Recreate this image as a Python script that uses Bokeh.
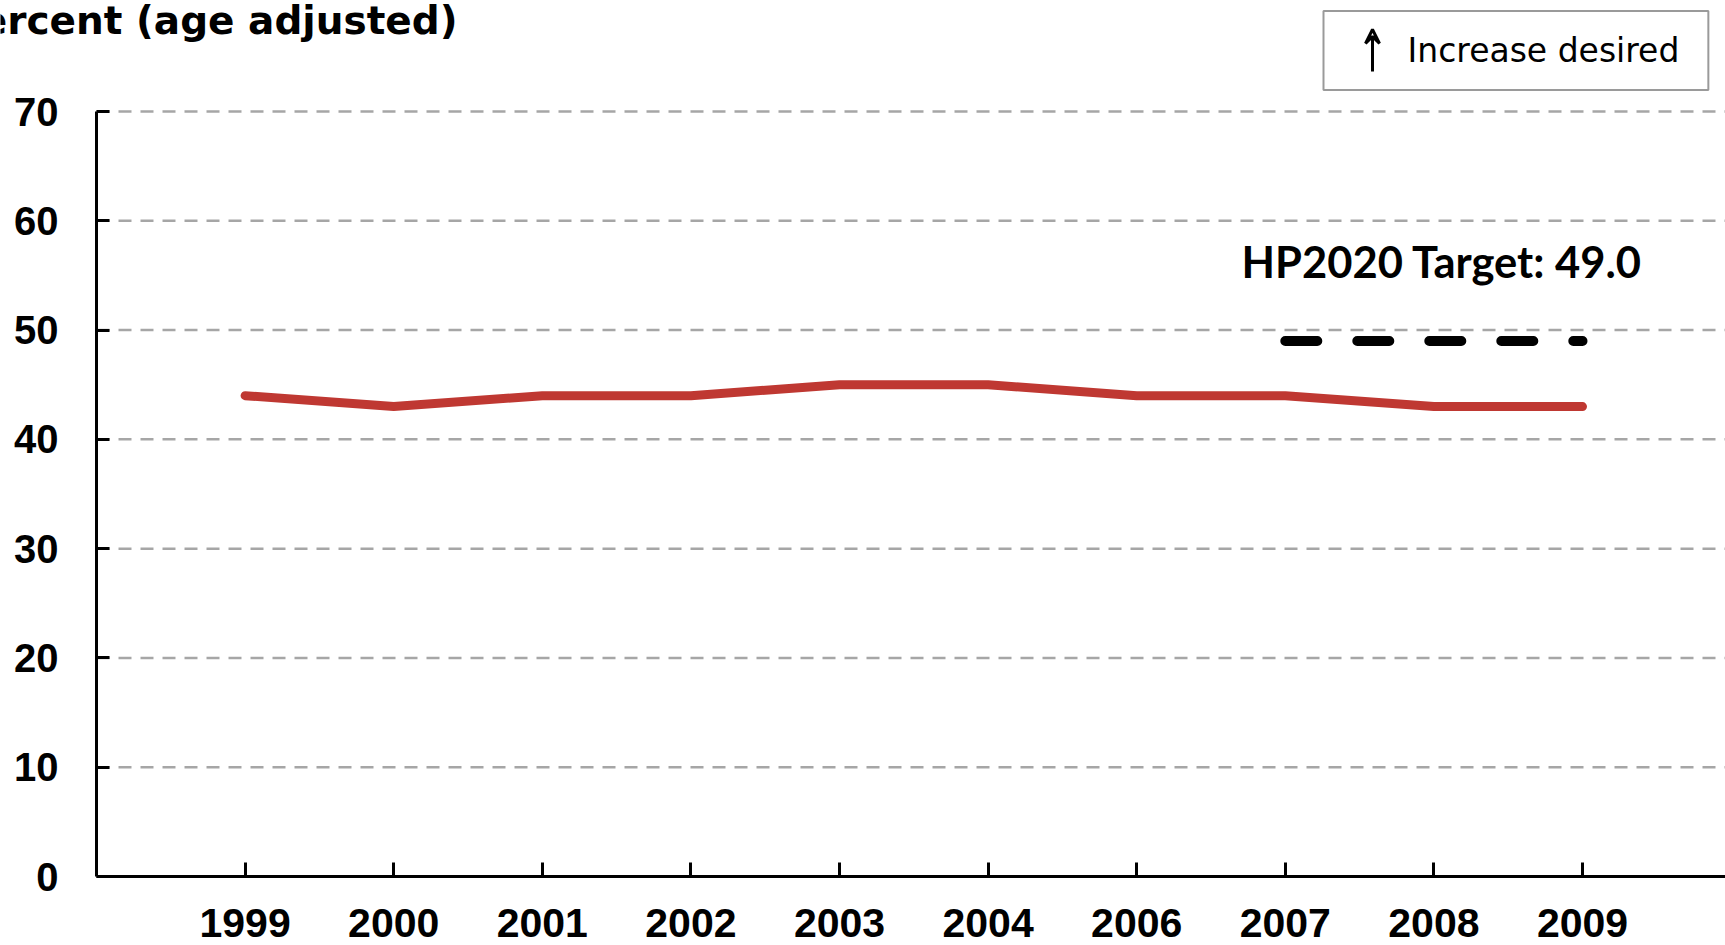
from bokeh.plotting import figure
from bokeh.models import Range1d, FixedTicker, Label, Arrow, VeeHead
from bokeh.embed import file_html
from bokeh.resources import INLINE

# ---- data ----
years = ["1999", "2000", "2001", "2002", "2003", "2004", "2006", "2007", "2008", "2009"]
percent = [44, 43, 44, 44, 45, 45, 44, 44, 43, 43]
target_years = ["2007", "2009"]
target_value = 49.0
y_ticks = [0, 10, 20, 30, 40, 50, 60, 70]
y_title = "Percent (age adjusted)"
target_text = "HP2020 Target: 49.0"
legend_text = "Increase desired"

x_pos = list(range(1, len(years) + 1))
pos = {y: i + 1 for i, y in enumerate(years)}
target_x = [pos[y] for y in target_years]
target_y = [target_value for _ in target_years]

# pixel geometry of the page (page pixels -> data)
PXX = 148.6          # px per category step
PXY = 765 / 70.0     # px per percent point
X0, Y0 = 96, 876     # page position of data (0, 0)
W, H = 1725, 945


def dx(px):
    return (px - X0) / PXX


def dy(py):
    return (Y0 - py) / PXY


x_end = dx(W)
p = figure(width=W, height=H, output_backend="svg", toolbar_location=None,
           x_range=Range1d(dx(0), x_end), y_range=Range1d(dy(H), dy(0)),
           min_border=0, min_border_left=0, min_border_right=0, min_border_top=0, min_border_bottom=0)
p.outline_line_color = None
p.background_fill_color = "white"
p.border_fill_color = "white"
p.xgrid.visible = False
p.ygrid.visible = False

for ax in (p.xaxis[0], p.yaxis[0]):
    ax.axis_line_color = "black"
    ax.axis_line_width = 3
    ax.major_tick_line_color = "black"
    ax.major_tick_line_width = 3
    ax.major_tick_out = 0
    ax.minor_tick_line_color = None
    ax.major_label_text_font = "Liberation Sans"
    ax.major_label_text_font_style = "bold"
    ax.major_label_text_color = "black"
    ax.fixed_location = 0

p.yaxis.bounds = (y_ticks[0], y_ticks[-1])
p.yaxis.ticker = FixedTicker(ticks=y_ticks)
p.yaxis.major_tick_in = 13
p.yaxis.major_label_text_font_size = "40px"
p.yaxis.major_label_standoff = 38

p.xaxis.bounds = (0, x_end)
p.xaxis.ticker = FixedTicker(ticks=x_pos)
p.xaxis.major_label_overrides = {i: y for i, y in zip(x_pos, years)}
p.xaxis.major_tick_in = 14
p.xaxis.major_label_text_font_size = "41px"
p.xaxis.major_label_standoff = 32

# dashed horizontal grid lines at the y ticks (from the axis to the right edge)
grid_y = y_ticks[1:]
p.segment(x0=[0] * len(grid_y), y0=grid_y, x1=[x_end] * len(grid_y), y1=grid_y,
          line_color="#a6a6a6", line_width=2.5, line_dash="13 9")

# series
p.line(x_pos, percent, line_color="#BF3832", line_width=9, line_join="round", line_cap="round")
# target
p.line(target_x, target_y, line_color="black", line_width=10, line_dash="32 40", line_cap="round")

p.add_layout(Label(x=dx(457), y=dy(20), text=y_title, text_align="right", text_baseline="alphabetic",
                   text_font="DejaVu Sans", text_font_style="bold", text_font_size="39px", text_color="black"))

p.add_layout(Label(x=dx(1241), y=dy(260), text=target_text, text_align="left", text_baseline="alphabetic",
                   text_font="Lato", text_font_style="bold", text_font_size="43.5px", text_color="black"))

p.add_layout(Label(x=dx(1323), y=dy(50), text=legend_text, text_align="left", text_baseline="middle",
                   text_font="DejaVu Sans", text_font_size="33px", text_color="black",
                   border_line_color="#9a9a9a", border_line_width=2, background_fill_color="white",
                   padding=dict(left=84, right=29, top=20, bottom=20)))

p.add_layout(Arrow(x_start=dx(1372), y_start=dy(71), x_end=dx(1372), y_end=dy(29),
                   line_color="black", line_width=3,
                   end=VeeHead(size=14, line_color="black", line_width=3, fill_color=None)))

open("out.html", "w").write(file_html(p, INLINE))
